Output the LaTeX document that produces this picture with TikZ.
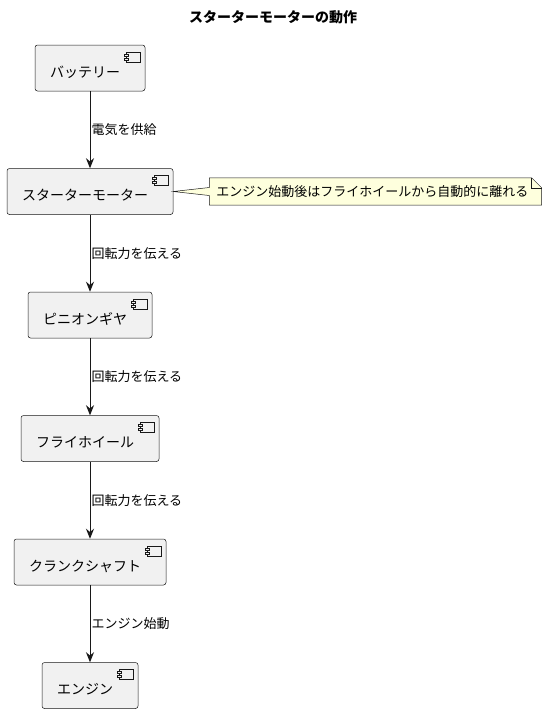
\documentclass[tikz,border=0pt]{standalone}
\usepackage{fontspec}
\setmainfont{Noto Sans CJK JP}
\usepackage{xcolor}
\usetikzlibrary{positioning,arrows.meta,calc}
\definecolor{compfill}{HTML}{F1F1F1}
\definecolor{lineclr}{HTML}{181818}
\definecolor{notefill}{HTML}{FEFFDD}
\tikzset{
  comp/.style={draw=lineclr, fill=compfill, line width=.5pt, rounded corners=2.5pt,
    minimum height=46pt, inner xsep=15pt, text height=18pt, text depth=0pt,
    font=\fontsize{14pt}{16pt}\selectfont},
  flow/.style={draw=lineclr, line width=1pt, -{Stealth[length=10pt,width=8pt]}},
  lbl/.style={font=\fontsize{13pt}{15pt}\selectfont, inner sep=1pt},
  notebox/.style={inner xsep=7pt, minimum height=27pt, font=\fontsize{13pt}{15pt}\selectfont}
}
% small component symbol in the top right corner
\newcommand{\compicon}[1]{
  \draw[lineclr, line width=.5pt, fill=compfill] ($(#1.north east)+(-19,7)$) rectangle ++(14,10);
  \draw[lineclr, line width=.5pt, fill=compfill] ($(#1.north east)+(-21,9)$) rectangle ++(4,2);
  \draw[lineclr, line width=.5pt, fill=compfill] ($(#1.north east)+(-21,13)$) rectangle ++(4,2);
}

\begin{document}
\begin{tikzpicture}[x=1pt, y=-1pt]
  \useasboundingbox (0,0) rectangle (546,712);
  \node[font=\bfseries\fontsize{14pt}{16pt}\selectfont] (title) at (273,17) {スターターモーターの動作};

  \node[comp] (battery) at (90,68) {バッテリー\kern10pt};
  \node[comp, below=77pt of battery] (motor) {スターターモーター\kern10pt};
  \node[comp, below=77pt of motor] (pinion) {ピニオンギヤ\kern10pt};
  \node[comp, below=77pt of pinion] (flywheel) {フライホイール\kern10pt};
  \node[comp, below=77pt of flywheel] (crank) {クランクシャフト\kern10pt};
  \node[comp, below=77pt of crank] (engine) {エンジン\kern10pt};
  \foreach \c in {battery,motor,pinion,flywheel,crank,engine}
    {\compicon{\c}}

  \draw[flow] (battery) -- (motor) node[lbl, midway, right] {電気を供給};
  \draw[flow] (motor) -- (pinion) node[lbl, midway, right] {回転力を伝える};
  \draw[flow] (pinion) -- (flywheel) node[lbl, midway, right] {回転力を伝える};
  \draw[flow] (flywheel) -- (crank) node[lbl, midway, right] {回転力を伝える};
  \draw[flow] (crank) -- (engine) node[lbl, midway, right] {エンジン始動};

  % note
  \node[notebox, right=36pt of motor] (note) {エンジン始動後はフライホイールから自動的に離れる\kern6pt};
  \filldraw[lineclr, line width=.5pt, fill=notefill] (note.north west) -- ($(note.north east)+(-10,0)$)
    -- ($(note.north east)+(0,10)$) -- (note.south east) -- (note.south west)
    -- ($(note.west)+(0,4)$) -- (motor.east) -- ($(note.west)+(0,-4)$) -- cycle;
  \draw[lineclr, line width=.5pt] ($(note.north east)+(-10,0)$) -- ($(note.north east)+(-10,10)$)
    -- ($(note.north east)+(0,10)$);
  \node[notebox] at (note) {エンジン始動後はフライホイールから自動的に離れる\kern6pt};
\end{tikzpicture}
\end{document}
